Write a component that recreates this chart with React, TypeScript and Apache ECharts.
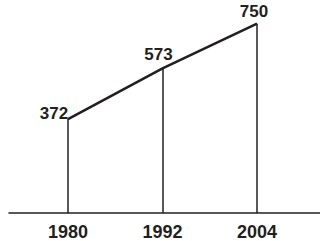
import React, { useEffect, useRef } from "react";
import * as echarts from "echarts";

const years = [1980, 1992, 2004];
const values = [372, 573, 750];
const labelOffsets = [[-14, 8], [-4, 0], [-3, 1]];

export default function App() {
  const ref = useRef<HTMLDivElement>(null);
  useEffect(() => {
    const chart = echarts.init(ref.current!, null, { renderer: "svg" });
    const font = "'Liberation Sans Narrow', 'Arial Narrow', sans-serif";
    chart.setOption({
      animation: false,
      grid: { left: 9, right: 0, top: 11, bottom: 26 },
      xAxis: {
        type: "value",
        min: 1972.5,
        max: 2012,
        splitLine: { show: false },
        axisTick: { show: false },
        axisLine: { show: true, onZero: false, lineStyle: { color: "#231f20", width: 1.5 } },
        axisLabel: {
          customValues: years,
          color: "#231f20",
          fontFamily: font,
          fontWeight: "bold",
          fontSize: 18,
          margin: 10,
          formatter: (v: number) => String(v),
        },
      },
      yAxis: { type: "value", min: 0, max: 800, show: false, splitLine: { show: false } },
      series: [
        {
          type: "line",
          data: years.map((y, i) => ({
            value: [y, values[i]],
            label: { offset: labelOffsets[i] },
          })),
          symbol: "circle",
          symbolSize: 0.1,
          showSymbol: true,
          itemStyle: { color: "#231f20" },
          lineStyle: { color: "#231f20", width: 2.6 },
          label: {
            show: true,
            position: "top",
            color: "#231f20",
            fontFamily: font,
            fontWeight: "bold",
            fontSize: 17,
            formatter: (p: any) => String(p.value[1]),
          },
          markLine: {
            silent: true,
            symbol: "none",
            label: { show: false },
            lineStyle: { color: "#231f20", width: 1.5, type: "solid" },
            data: years.map((y, i) => [{ coord: [y, 0] }, { coord: [y, values[i]] }]),
          },
        },
      ],
    });
    return () => chart.dispose();
  }, []);
  return <div ref={ref} style={{ width: 320, height: 241, position: "absolute", left: 0, top: 0, background: "#fff" }} />;
}
